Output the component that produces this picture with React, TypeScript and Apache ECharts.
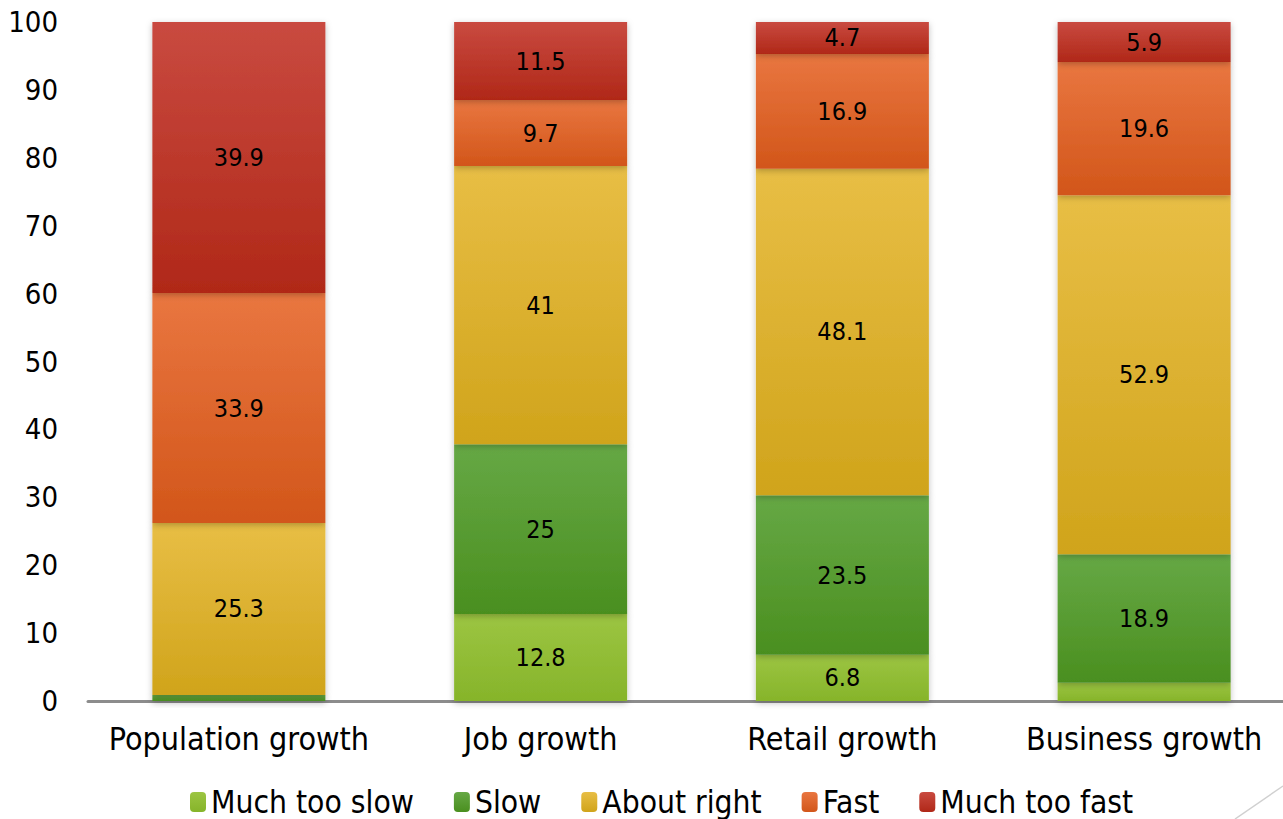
import React, { useEffect, useRef } from "react";
import * as echarts from "echarts";

const categories = ["Population growth", "Job growth", "Retail growth", "Business growth"];
const seriesNames = ["Much too slow", "Slow", "About right", "Fast", "Much too fast"];
const muchTooSlow = [0, 12.8, 6.8, 2.7];
const slow = [0.9, 25, 23.5, 18.9];
const aboutRight = [25.3, 41, 48.1, 52.9];
const fast = [33.9, 9.7, 16.9, 19.6];
const muchTooFast = [39.9, 11.5, 4.7, 5.9];
const yTicks = [0, 10, 20, 30, 40, 50, 60, 70, 80, 90, 100];

const seriesData = [muchTooSlow, slow, aboutRight, fast, muchTooFast];
const gradients = [
  ["#9cc542", "#86b42a"],
  ["#66a845", "#4a8f1f"],
  ["#e8be45", "#d0a41b"],
  ["#e97640", "#d2561a"],
  ["#c94a40", "#b02818"],
];
const minLabel = [3, 3, 3, 3, 3];

const FONT = "'DejaVu Sans Condensed', 'DejaVu Sans', sans-serif";

export default function App() {
  const ref = useRef<HTMLDivElement>(null);
  useEffect(() => {
    if (!ref.current) return;
    const chart = echarts.init(ref.current, undefined, { renderer: "svg" });
    chart.setOption({
      animation: false,
      textStyle: { fontFamily: FONT },
      grid: { left: 88, right: 5, top: 22, bottom: 118 },
      legend: {
        top: 781,
        left: 185,
        itemWidth: 16,
        itemHeight: 20,
        itemGap: 40,
        textStyle: { fontSize: 31.5, color: "#000", fontFamily: FONT, padding: [0, 0, 0, 0] },
        data: seriesNames,
      },
      xAxis: {
        type: "category",
        data: categories,
        axisLine: { lineStyle: { color: "#8c8c8c", width: 3 } },
        axisTick: { show: false },
        axisLabel: { fontSize: 32, color: "#000", margin: 22, fontFamily: FONT, interval: 0 },
      },
      yAxis: {
        type: "value",
        min: 0,
        max: 100,
        interval: 10,
        splitLine: { show: false },
        axisLine: { show: false },
        axisTick: { show: false },
        axisLabel: {
          fontSize: 29,
          color: "#000",
          margin: 30,
          fontFamily: FONT,
          formatter: (v: number) => (yTicks.includes(v) ? String(v) : ""),
        },
      },
      series: seriesData.map((d, i) => ({
        name: seriesNames[i],
        type: "bar",
        stack: "total",
        barWidth: 173,
        data: d,
        itemStyle: {
          color: new echarts.graphic.LinearGradient(0, 0, 0, 1, [
            { offset: 0, color: gradients[i][0] },
            { offset: 1, color: gradients[i][1] },
          ]),
          shadowColor: "rgba(0,0,0,0.25)",
          shadowBlur: 6,
          shadowOffsetX: 0,
          shadowOffsetY: 2,
        },
        label: {
          show: true,
          position: "inside",
          fontSize: 25,
          color: "#000",
          fontFamily: FONT,
          formatter: (p: any) => (p.value >= minLabel[i] ? String(p.value) : ""),
        },
      })),
      graphic: [
        {
          type: "line",
          shape: { x1: 1235, y1: 819, x2: 1283, y2: 786 },
          style: { stroke: "#d0d0d0", lineWidth: 1.5 },
        },
      ],
    });
    return () => chart.dispose();
  }, []);
  return (
    <div
      ref={ref}
      style={{ position: "fixed", left: 0, top: 0, width: 1300, height: 819, background: "#fff" }}
    />
  );
}
